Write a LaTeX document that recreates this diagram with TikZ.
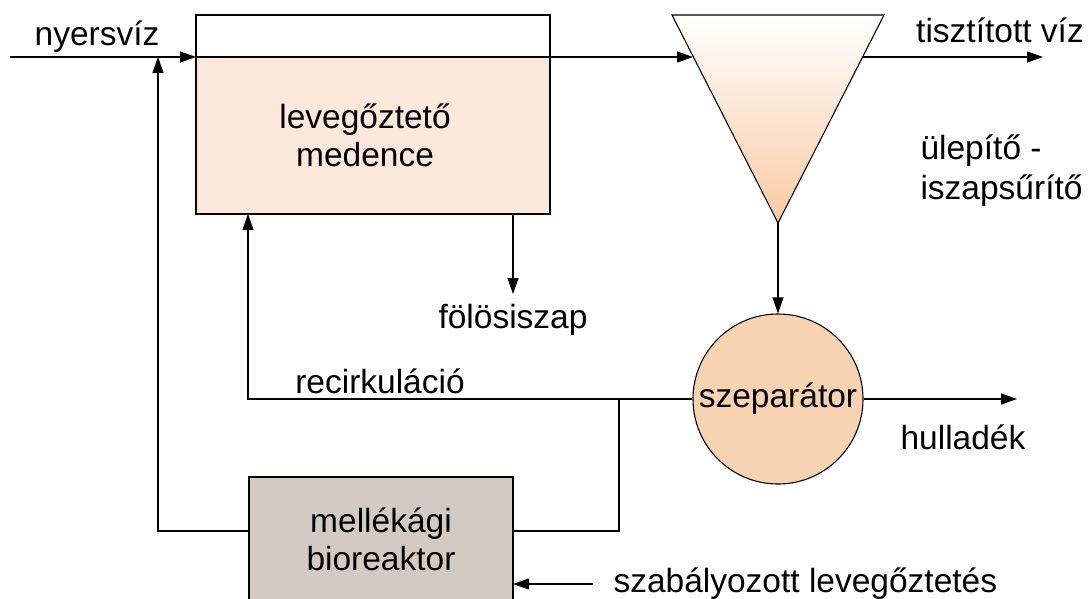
\documentclass[tikz,border=0pt]{standalone}
\usepackage{fontspec}
\setmainfont{Liberation Sans}
\usepackage{tikz}
\usetikzlibrary{arrows.meta}
\definecolor{medc}{HTML}{FCE9DB}
\definecolor{szepc}{HTML}{F8D3B2}
\definecolor{ulepc}{HTML}{F8CAA2}
\definecolor{bioc}{HTML}{D4CAC4}

\begin{document}
\begin{tikzpicture}[
    x=1pt, y=-1pt,
    font=\fontsize{33.5}{38}\selectfont,
    line width=1.1pt,
    txt/.style={align=center, inner sep=0pt},
    tartaly/.style={draw, line width=1.1pt, align=center, inner sep=0pt},
    flow/.style={-{Triangle[length=16pt, width=11pt]}}
  ]
  \useasboundingbox (0,0) rectangle (1090,598);
  \clip (0,0) rectangle (1090,598);

  % --- levegőztető medence
  \fill[medc] (196,57) rectangle (550,214);
  \node[tartaly, minimum width=354pt, minimum height=199pt] (med) at (373,114.5) {};
  \node[txt] (medt) at (365,135) {levegőztető\\medence};
  \coordinate (medbe) at (196,57);
  \coordinate (medki) at (550,57);
  \coordinate (recbe) at (248,214);
  \coordinate (folki) at (513,214);

  % --- ülepítő - iszapsűrítő
  \coordinate (ulbal) at (672,15);
  \coordinate (uljobb) at (884,15);
  \coordinate (ulcsucs) at (778,223);
  \shadedraw[top color=white, bottom color=ulepc, line join=miter]
    (ulbal) -- (uljobb) -- (ulcsucs) -- cycle;
  \coordinate (ulbe) at (693,57);
  \coordinate (ulki) at (863,57);

  % --- szeparátor
  \node[tartaly, circle, fill=szepc, minimum size=170pt] (szep) at (778,399) {szeparátor};

  % --- mellékági bioreaktor
  \node[tartaly, fill=bioc, minimum width=264pt, minimum height=124pt]
    (bio) at (381,539) {mellékági\\bioreaktor};
  \coordinate (biobal) at (249,531);
  \coordinate (biojobb) at (513,531);
  \coordinate (biolev) at (513,584);

  % --- free ends
  \coordinate (be) at (10,57);
  \coordinate (vissza) at (158,57);
  \coordinate (tiszta) at (1043,57);
  \coordinate (folos) at (513,294);
  \coordinate (elag) at (619,399);
  \coordinate (hull) at (1017,399);
  \coordinate (levki) at (593,584);

  % --- flows
  \draw[flow] (be) -- (medbe);
  \draw (medbe) -- (medki);
  \draw[flow] (medki) -- (ulbe);
  \draw[flow] (ulki) -- (tiszta);
  \draw[flow] (ulcsucs) -- (szep.north);
  \draw[flow] (szep.east) -- (hull);
  \draw[flow] (folki) -- (folos);
  \draw[flow] (szep.west) -| (recbe);
  \draw (elag) |- (biojobb);
  \draw[flow] (biobal) -| (vissza);
  \draw[flow] (levki) -- (biolev);

  % --- labels
  \node[txt] (nyers) at (97,37) {nyersvíz};
  \node[txt] (tisztt) at (1000,30) {tisztított víz};
  \node[txt, align=left, anchor=west, font=\fontsize{33.5}{40}\selectfont]
    (ulept) at (920,171) {ülepítő -\\iszapsűrítő};
  \node[txt] (folost) at (513,320) {fölösiszap};
  \node[txt] (rect) at (380,381) {recirkuláció};
  \node[txt] (hullt) at (963,437) {hulladék};
  \node[txt, anchor=west] (levt) at (613,584) {szabályozott levegőztetés};

\end{tikzpicture}
\end{document}
